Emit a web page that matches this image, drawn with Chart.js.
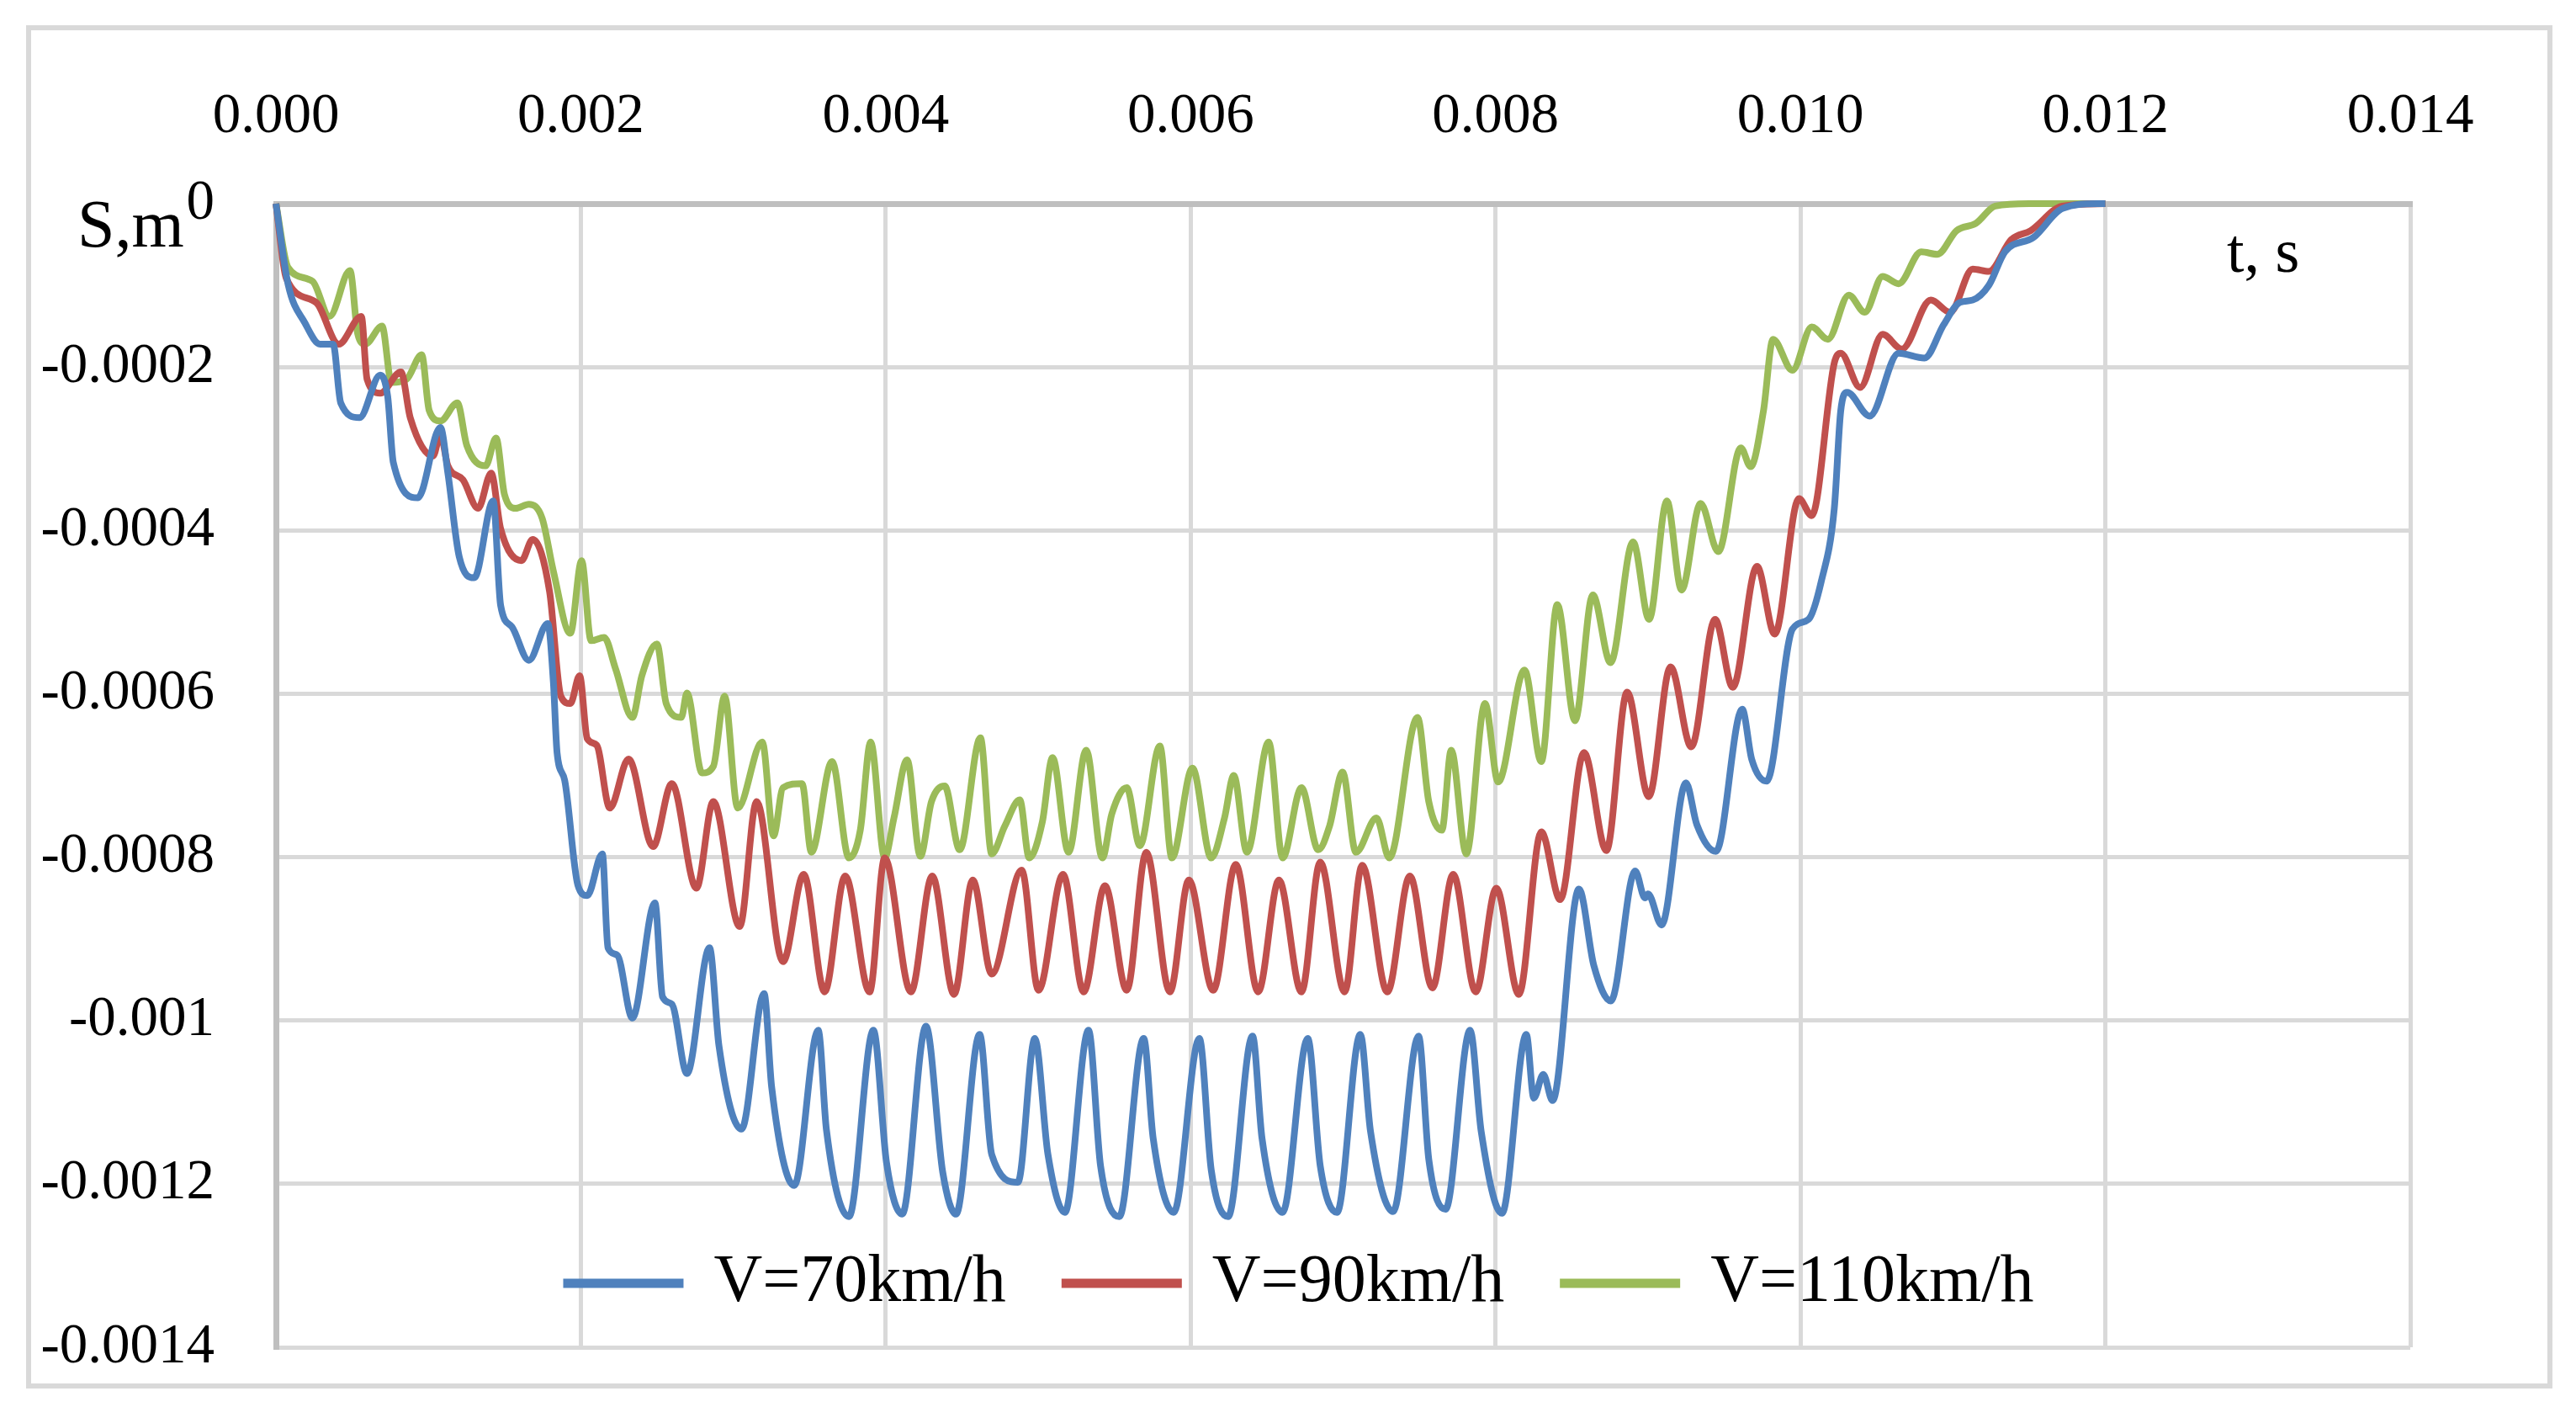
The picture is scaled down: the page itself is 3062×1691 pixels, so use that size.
<!DOCTYPE html>
<html>
<head>
<meta charset="utf-8">
<script src="https://cdn.jsdelivr.net/npm/chart.js@4.4.1/dist/chart.umd.min.js"></script>
<style>
  html, body { margin: 0; padding: 0; background: #fff; }
  canvas { display: block; }
</style>
</head>
<body>
<canvas id="myChart" width="3062" height="1691" style="width:3062px;height:1691px"></canvas>
<script>
// values (t in s, S in m)
const tBlue = [0, 0.00008, 0.00019, 0.00029, 0.000375, 0.000425, 0.000548, 0.000684, 0.000733, 0.00077,
  0.000931, 0.001079, 0.001128, 0.001202, 0.001301, 0.001425, 0.001474, 0.001548, 0.001659, 0.001783,
  0.00182, 0.001844, 0.001894, 0.00198, 0.002042, 0.002141, 0.002178, 0.002239, 0.002338, 0.002486,
  0.002536, 0.002597, 0.002696, 0.002844, 0.002906, 0.003054, 0.003202, 0.003252, 0.0034, 0.003557,
  0.003611, 0.003759, 0.003919, 0.004005, 0.004108, 0.004264, 0.004374, 0.004461, 0.004616, 0.004695,
  0.004867, 0.004978, 0.005064, 0.005175, 0.00533, 0.005409, 0.005532, 0.005692, 0.005754, 0.005889,
  0.006057, 0.006135, 0.006246, 0.006406, 0.006468, 0.006603, 0.006768, 0.00685, 0.00696, 0.007113,
  0.00718, 0.007328, 0.007495, 0.007562, 0.007672, 0.007833, 0.007906, 0.008042, 0.008202, 0.008251,
  0.008313, 0.008374, 0.008547, 0.008645, 0.008756, 0.008916, 0.00898, 0.009, 0.009089, 0.009249,
  0.00932, 0.009446, 0.009618, 0.00968, 0.009778, 0.009947, 0.010053, 0.010137, 0.010222, 0.010264,
  0.010306, 0.010454, 0.010644, 0.010813, 0.01094, 0.011045, 0.01113, 0.011236, 0.011341, 0.011531,
  0.011717, 0.01195, 0.012];
const sBlue = [0, -0.000099, -0.000146, -0.000172, -0.000172, -0.000244, -0.000262, -0.00021, -0.000236, -0.000317,
  -0.00036, -0.000274, -0.00033, -0.000432, -0.000458, -0.000364, -0.000492, -0.000518, -0.000559, -0.000514,
  -0.000586, -0.000672, -0.000706, -0.000834, -0.000847, -0.000796, -0.000911, -0.00092, -0.000997, -0.000856,
  -0.000971, -0.00098, -0.001065, -0.000911, -0.001031, -0.001133, -0.000967, -0.001082, -0.001202, -0.001012,
  -0.001134, -0.00124, -0.001012, -0.001174, -0.001237, -0.001007, -0.001186, -0.001237, -0.001017, -0.001164,
  -0.001198, -0.001022, -0.001164, -0.001235, -0.001012, -0.001178, -0.00124, -0.001022, -0.001144, -0.001235,
  -0.001022, -0.001183, -0.00124, -0.001019, -0.001144, -0.001235, -0.001022, -0.001178, -0.001235, -0.001017,
  -0.001136, -0.001234, -0.001019, -0.00117, -0.001231, -0.001012, -0.001136, -0.001236, -0.001017, -0.001095,
  -0.001066, -0.001098, -0.000839, -0.000933, -0.000976, -0.000817, -0.00085, -0.000845, -0.000883, -0.000709,
  -0.00076, -0.000793, -0.000619, -0.00068, -0.000707, -0.000521, -0.000509, -0.000462, -0.000373, -0.000254,
  -0.000231, -0.00026, -0.000183, -0.000189, -0.000148, -0.000121, -0.000118, -0.0001, -0.000059, -0.000041,
  -0.000006, 0, 0];

const tRed = [0, 0.000067, 0.000264, 0.000412, 0.00056, 0.000598, 0.000684, 0.00082, 0.000881, 0.00103,
  0.001079, 0.001128, 0.001227, 0.001326, 0.001412, 0.001474, 0.00161, 0.001684, 0.001795, 0.001869,
  0.001931, 0.001992, 0.002042, 0.002104, 0.00219, 0.002313, 0.002474, 0.002597, 0.002758, 0.002869,
  0.003042, 0.003153, 0.003326, 0.003462, 0.003599, 0.003734, 0.003894, 0.003993, 0.004165, 0.004305,
  0.004448, 0.004571, 0.004695, 0.004892, 0.005002, 0.005163, 0.005298, 0.005438, 0.005581, 0.005709,
  0.005864, 0.005988, 0.006148, 0.006296, 0.006443, 0.006579, 0.006727, 0.00685, 0.00701, 0.007125,
  0.00729, 0.007438, 0.007586, 0.007722, 0.00787, 0.008005, 0.008153, 0.0083, 0.008424, 0.00858,
  0.008727, 0.008863, 0.009005, 0.009148, 0.009284, 0.00944, 0.009556, 0.009715, 0.009831, 0.00999,
  0.010074, 0.010222, 0.010264, 0.010391, 0.010539, 0.010665, 0.010855, 0.010982, 0.01113, 0.011236,
  0.011383, 0.01151, 0.011717, 0.012];
const sRed = [0, -0.000091, -0.000121, -0.000172, -0.000138, -0.000215, -0.000232, -0.000206, -0.000262, -0.000309,
  -0.000283, -0.000321, -0.000338, -0.000373, -0.00033, -0.000398, -0.000437, -0.000411, -0.000475, -0.000603,
  -0.000612, -0.000578, -0.000655, -0.000663, -0.00074, -0.00068, -0.000787, -0.00071, -0.000838, -0.000732,
  -0.000885, -0.000732, -0.000928, -0.000821, -0.000965, -0.000823, -0.000965, -0.000801, -0.000965, -0.000823,
  -0.000968, -0.000828, -0.000943, -0.000816, -0.000963, -0.000821, -0.000965, -0.000835, -0.000963, -0.000794,
  -0.000965, -0.000828, -0.000963, -0.000809, -0.000965, -0.000828, -0.000965, -0.000806, -0.000965, -0.00081,
  -0.000965, -0.000823, -0.00096, -0.000821, -0.000965, -0.000838, -0.000968, -0.000769, -0.000852, -0.000672,
  -0.000792, -0.000598, -0.000726, -0.000567, -0.000665, -0.000509, -0.000592, -0.000444, -0.000527, -0.000361,
  -0.000382, -0.000195, -0.000183, -0.000225, -0.00016, -0.000178, -0.000118, -0.000133, -0.00008, -0.000083,
  -0.000044, -0.000033, -0.000003, 0];

const tGreen = [0, 0.000079, 0.00024, 0.000351, 0.000486, 0.000536, 0.000585, 0.000696, 0.000758, 0.000857,
  0.000956, 0.001005, 0.001079, 0.00119, 0.001252, 0.001375, 0.001444, 0.001499, 0.001573, 0.001659,
  0.001746, 0.00182, 0.001931, 0.002005, 0.002067, 0.002153, 0.002227, 0.002338, 0.0024, 0.002499,
  0.00256, 0.002659, 0.002696, 0.002795, 0.002869, 0.002943, 0.003029, 0.00319, 0.003264, 0.003326,
  0.003451, 0.003512, 0.003648, 0.003759, 0.003833, 0.003901, 0.003993, 0.004054, 0.00414, 0.004227,
  0.0043, 0.004387, 0.004485, 0.004621, 0.004695, 0.004781, 0.004879, 0.004941, 0.005027, 0.005094,
  0.005199, 0.005315, 0.005421, 0.005483, 0.005581, 0.005667, 0.005798, 0.005877, 0.006012, 0.006135,
  0.006222, 0.006283, 0.006369, 0.006512, 0.006603, 0.006727, 0.006837, 0.006911, 0.006997, 0.007084,
  0.007219, 0.007303, 0.007488, 0.007562, 0.007648, 0.007709, 0.007808, 0.007931, 0.008017, 0.00819,
  0.0083, 0.008405, 0.008521, 0.008638, 0.008754, 0.008902, 0.009007, 0.009124, 0.00922, 0.009345,
  0.009461, 0.009609, 0.009673, 0.009757, 0.00982, 0.009947, 0.010074, 0.01018, 0.010317, 0.010422,
  0.010539, 0.010644, 0.010792, 0.010898, 0.011024, 0.011151, 0.011278, 0.0115, 0.012];
const sGreen = [0, -0.000078, -0.000095, -0.000138, -0.000082, -0.000159, -0.000172, -0.00015, -0.000219, -0.000215,
  -0.000185, -0.000253, -0.000266, -0.000244, -0.000296, -0.000321, -0.000287, -0.000356, -0.000373, -0.000368,
  -0.000385, -0.00045, -0.000526, -0.000437, -0.000535, -0.000531, -0.000569, -0.000629, -0.000578, -0.000539,
  -0.000612, -0.000629, -0.000599, -0.000697, -0.000689, -0.000603, -0.00074, -0.000659, -0.000774, -0.000715,
  -0.00071, -0.000794, -0.000683, -0.000801, -0.000767, -0.000659, -0.000801, -0.000752, -0.000681, -0.000799,
  -0.000732, -0.000713, -0.000791, -0.000654, -0.000796, -0.000762, -0.00073, -0.000801, -0.000757, -0.000678,
  -0.000794, -0.000669, -0.000801, -0.000747, -0.000715, -0.000786, -0.000664, -0.000801, -0.000691, -0.000801,
  -0.000752, -0.0007, -0.000794, -0.000659, -0.000801, -0.000715, -0.000791, -0.000762, -0.000696, -0.000794,
  -0.000752, -0.000801, -0.000629, -0.000732, -0.000767, -0.000669, -0.000796, -0.000612, -0.000708, -0.000571,
  -0.000683, -0.000491, -0.000633, -0.000479, -0.000562, -0.000414, -0.000509, -0.000364, -0.000473, -0.000367,
  -0.000426, -0.000299, -0.000322, -0.000254, -0.000166, -0.000204, -0.000151, -0.000166, -0.000112, -0.000133,
  -0.000089, -0.000098, -0.000059, -0.000062, -0.000033, -0.000024, -0.000003, 0, 0];

const seriesNames = ["V=70km/h", "V=90km/h", "V=110km/h"];
const xTicks = [0, 0.002, 0.004, 0.006, 0.008, 0.01, 0.012, 0.014];
const xTickLabels = ["0.000", "0.002", "0.004", "0.006", "0.008", "0.010", "0.012", "0.014"];
const yTicks = [-0.0014, -0.0012, -0.001, -0.0008, -0.0006, -0.0004, -0.0002, 0];
const yTickLabels = ["-0.0014", "-0.0012", "-0.001", "-0.0008", "-0.0006", "-0.0004", "-0.0002", "0"];

const FONT = "'Liberation Serif', 'Times New Roman', serif";

function toPoints(ts, vs) {
  return ts.map((t, i) => ({ x: t, y: vs[i] }));
}

function lineSet(label, ts, vs, color) {
  return {
    label: label,
    data: toPoints(ts, vs),
    borderColor: color,
    backgroundColor: color,
    borderWidth: 8,
    pointRadius: 0,
    cubicInterpolationMode: "monotone",
    clip: 10,
  };
}

// frame, axis captions, and the legend moved inside the plot area
const decor = {
  id: "decor",
  beforeDraw(chart) {
    const ctx = chart.ctx;
    ctx.save();
    ctx.fillStyle = "#fff";
    ctx.fillRect(0, 0, chart.width, chart.height);
    ctx.strokeStyle = "#d9d9d9";
    ctx.lineWidth = 6;
    ctx.strokeRect(34, 33, 2997, 1614);
    ctx.restore();
  },
  afterLayout(chart) {
    const lg = chart.legend;
    lg.left = 328;
    lg.right = 2763;
    lg.top = 1415;
    lg.bottom = 1598;
  },
  afterDraw(chart) {
    const ctx = chart.ctx;
    ctx.save();
    ctx.fillStyle = "#000";
    ctx.textBaseline = "alphabetic";
    ctx.textAlign = "left";
    ctx.font = "80px " + FONT;
    ctx.fillText("S,m", 92, 293);
    ctx.font = "74px " + FONT;
    ctx.fillText("t, s", 2647, 323);
    ctx.restore();
  },
};

new Chart(document.getElementById("myChart"), {
  type: "line",
  data: {
    datasets: [
      lineSet(seriesNames[0], tBlue, sBlue, "#4F81BD"),
      lineSet(seriesNames[1], tRed, sRed, "#C0504D"),
      lineSet(seriesNames[2], tGreen, sGreen, "#9BBB59"),
    ],
  },
  options: {
    responsive: false,
    devicePixelRatio: 1,
    animation: false,
    layout: { padding: { left: 0, top: 0, right: 197, bottom: 89 } },
    scales: {
      x: {
        type: "linear",
        position: "top",
        min: 0,
        max: 0.014,
        afterBuildTicks: (scale) => { scale.ticks = xTicks.map((v) => ({ value: v })); },
        afterFit: (scale) => { scale.height = 242; },
        ticks: {
          callback: (value, index) => xTickLabels[index],
          font: { family: FONT, size: 67 },
          color: "#000",
          padding: 62,
          maxRotation: 0,
        },
        grid: { color: "#d9d9d9", lineWidth: 5, drawTicks: false },
        border: { color: "#bfbfbf", width: 7 },
      },
      y: {
        type: "linear",
        min: -0.0014,
        max: 0,
        afterBuildTicks: (scale) => { scale.ticks = yTicks.map((v) => ({ value: v })); },
        afterFit: (scale) => {
          scale.width = 328;
          scale.paddingTop = 40;
          scale.paddingBottom = 40;
        },
        ticks: {
          callback: (value, index) => yTickLabels[index],
          font: { family: FONT, size: 67 },
          color: "#000",
          padding: 73,
        },
        grid: { color: "#d9d9d9", lineWidth: 5, drawTicks: false },
        border: { color: "#bfbfbf", width: 7 },
      },
    },
    plugins: {
      legend: {
        position: "bottom",
        maxHeight: 1,
        labels: {
          boxWidth: 135,
          boxHeight: 3,
          padding: 70,
          color: "#000",
          font: { family: FONT, size: 80 },
        },
      },
      tooltip: { enabled: false },
    },
  },
  plugins: [decor],
});
</script>
</body>
</html>
